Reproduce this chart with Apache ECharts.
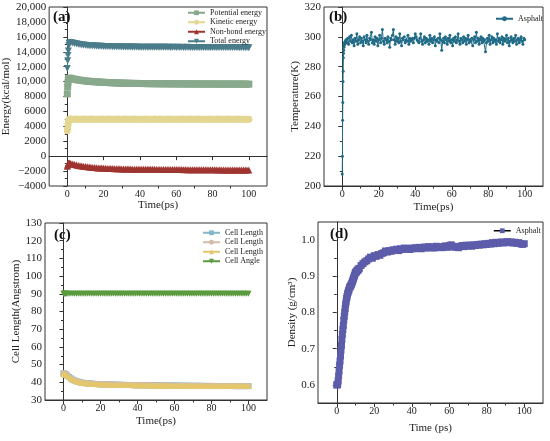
<!DOCTYPE html>
<html>
<head>
<meta charset="utf-8">
<script src="https://cdn.jsdelivr.net/npm/echarts@6/dist/echarts.min.js"></script>
<style>
  html, body { margin: 0; padding: 0; background: #fff; }
  #main { width: 550px; height: 441px; }
</style>
</head>
<body>
<div id="main"></div>
<script>
// time stamps (ps): dense start, then one sample per ps
const timeEarly = [0, 0.2, 0.4, 0.6, 0.8, 1, 1.5];
const timeA = timeEarly.concat(Array.from({ length: 99 }, (_, i) => i + 2));

// (a) energies, kcal/mol
const potentialE = [8350, 9300, 9900, 10300, 10400, 10450, 10450,
  10420, 10370, 10320, 10270, 10220, 10180, 10150, 10120, 10090,
  10060, 10040, 10020, 10000, 9980, 9960, 9950, 9930, 9920, 9900,
  9890, 9880, 9860, 9850, 9840, 9830, 9820, 9810, 9800, 9800,
  9790, 9780, 9780, 9770, 9760, 9760, 9750, 9760, 9740, 9750,
  9740, 9730, 9740, 9720, 9730, 9720, 9730, 9710, 9720, 9710,
  9720, 9700, 9710, 9700, 9720, 9700, 9690, 9710, 9700, 9690,
  9700, 9690, 9700, 9680, 9690, 9700, 9680, 9690, 9680, 9690,
  9680, 9690, 9670, 9680, 9690, 9670, 9680, 9670, 9680, 9670,
  9680, 9670, 9660, 9680, 9670, 9660, 9670, 9680, 9660, 9670,
  9660, 9670, 9660, 9670, 9660, 9650, 9670, 9660, 9650, 9660];
const kineticE = [3400, 3700, 4200, 4600, 4850, 4920, 4950,
  4970, 4960, 4950, 4970, 4940, 4960, 4950, 4970, 4940,
  4960, 4950, 4970, 4940, 4960, 4950, 4960, 4940, 4970, 4950,
  4960, 4940, 4970, 4950, 4960, 4940, 4950, 4970, 4960, 4940,
  4950, 4970, 4960, 4940, 4960, 4950, 4970, 4940, 4960, 4950,
  4940, 4960, 4970, 4950, 4940, 4960, 4950, 4970, 4960, 4940,
  4970, 4950, 4960, 4940, 4950, 4970, 4960, 4950, 4940, 4960,
  4950, 4960, 4970, 4940, 4960, 4950, 4940, 4970, 4950, 4960,
  4940, 4970, 4950, 4960, 4950, 4940, 4960, 4970, 4950, 4940,
  4960, 4950, 4970, 4940, 4960, 4950, 4960, 4940, 4970, 4950,
  4960, 4940, 4950, 4970, 4950, 4960, 4940, 4960, 4950, 4940];
const nonbondE = [-1350, -1200, -1050, -980, -940, -920, -950,
  -1000, -1060, -1120, -1180, -1240, -1290, -1330, -1370, -1400,
  -1430, -1460, -1490, -1510, -1530, -1550, -1570, -1590, -1600, -1620,
  -1630, -1640, -1650, -1660, -1670, -1680, -1690, -1690, -1700, -1710,
  -1710, -1720, -1720, -1730, -1730, -1740, -1740, -1740, -1750, -1750,
  -1750, -1760, -1760, -1760, -1770, -1770, -1770, -1770, -1780, -1780,
  -1780, -1780, -1790, -1780, -1790, -1790, -1790, -1800, -1790, -1800,
  -1800, -1800, -1800, -1810, -1800, -1810, -1810, -1810, -1810, -1820,
  -1810, -1820, -1820, -1820, -1820, -1830, -1820, -1830, -1830, -1830,
  -1830, -1830, -1840, -1830, -1840, -1840, -1840, -1840, -1850, -1840,
  -1850, -1840, -1850, -1850, -1850, -1850, -1860, -1850, -1860, -1860];
const totalE = [11750, 12800, 13500, 14100, 14800, 15150, 15200,
  15230, 15180, 15120, 15060, 15000, 14960, 14920, 14890, 14860,
  14840, 14820, 14800, 14790, 14770, 14760, 14750, 14740, 14730, 14720,
  14710, 14700, 14700, 14690, 14680, 14680, 14670, 14660, 14660, 14650,
  14650, 14640, 14640, 14630, 14640, 14630, 14620, 14630, 14620, 14620,
  14610, 14620, 14610, 14600, 14610, 14600, 14610, 14600, 14600, 14590,
  14600, 14590, 14600, 14590, 14600, 14590, 14580, 14590, 14590, 14580,
  14590, 14580, 14590, 14580, 14580, 14590, 14580, 14570, 14580, 14580,
  14570, 14580, 14570, 14580, 14570, 14570, 14580, 14570, 14570, 14560,
  14570, 14560, 14570, 14570, 14560, 14570, 14560, 14560, 14570, 14560,
  14560, 14570, 14560, 14560, 14550, 14560, 14560, 14550, 14560, 14550];

// (b) temperature, K
const timeBEarly = [0, 0.1, 0.2, 0.3, 0.4, 0.5, 0.6, 0.7, 0.8, 0.9, 1.0, 1.2, 1.4, 1.6, 1.8];
const tempEarly = [208, 220, 244, 256, 270, 277, 286, 289, 291, 293, 294, 296, 295, 297, 296];
const tempSteady = [298, 296, 299, 295, 300, 297, 301, 296, 298, 294,
  299, 297, 302, 295, 298, 300, 296, 299, 297, 294,
  300, 298, 296, 301, 297, 295, 299, 298, 303, 296,
  298, 295, 300, 297, 299, 294, 298, 301, 296, 299,
  305, 297, 295, 299, 298, 296, 300, 297, 293, 299,
  298, 301, 305, 298, 295, 300, 297, 299, 296, 302,
  297, 294, 299, 298, 300, 296, 298, 297, 301, 295,
  299, 297, 298, 299, 296, 299, 302, 300, 298, 297,
  296, 299, 302, 297, 295, 298, 300, 296, 299, 297,
  298, 295, 301, 297, 299, 296, 298, 300, 294, 298,
  297, 299, 296, 302, 298, 291, 297, 299, 296, 300,
  298, 295, 299, 297, 301, 296, 298, 294, 299, 297,
  300, 296, 298, 302, 297, 295, 299, 298, 296, 300,
  297, 299, 295, 298, 301, 296, 298, 297, 299, 294,
  298, 300, 296, 303, 297, 299, 295, 298, 300, 296,
  299, 297, 298, 290, 296, 299, 297, 301, 295, 298,
  300, 296, 299, 297, 298, 295, 302, 297, 299, 296,
  298, 300, 295, 299, 297, 298, 301, 296, 299, 294,
  297, 300, 298, 296, 299, 297, 301, 295, 298, 299,
  296, 298, 300, 297, 295, 299, 298];
const timeB = timeBEarly.concat(tempSteady.map((_, i) => 2 + i * 0.5));
const temperature = tempEarly.concat(tempSteady);

// (c) cell parameters (cubic box: a = b = c)
const cellLength = [45.0, 44.9, 44.8, 44.7, 44.6, 44.5, 44.2,
  43.8, 43.0, 42.2, 41.5, 41.0, 40.6, 40.3, 40.0, 39.8,
  39.6, 39.5, 39.4, 39.3, 39.2, 39.15, 39.1, 39.0, 38.95, 38.9,
  38.85, 38.8, 38.8, 38.75, 38.7, 38.7, 38.65, 38.65, 38.6, 38.6,
  38.55, 38.55, 38.5, 38.5, 38.5, 38.45, 38.45, 38.4, 38.4, 38.4,
  38.35, 38.35, 38.35, 38.3, 38.3, 38.3, 38.25, 38.25, 38.25, 38.2,
  38.2, 38.2, 38.2, 38.15, 38.15, 38.15, 38.15, 38.1, 38.1, 38.1,
  38.1, 38.1, 38.05, 38.05, 38.05, 38.05, 38.05, 38.0, 38.0, 38.0,
  38.0, 38.0, 38.0, 38.0, 37.95, 37.95, 37.95, 37.95, 37.95, 37.95,
  37.95, 37.9, 37.9, 37.9, 37.9, 37.9, 37.9, 37.9, 37.9, 37.9,
  37.9, 37.85, 37.85, 37.85, 37.85, 37.85, 37.85, 37.85, 37.85, 37.85];
const cellAngle = [90, 90, 90, 90, 90, 90, 90,
  90, 90, 90, 90, 90, 90, 90, 90, 90, 90, 90, 90, 90, 90, 90, 90, 90, 90, 90,
  90, 90, 90, 90, 90, 90, 90, 90, 90, 90, 90, 90, 90, 90, 90, 90, 90, 90, 90,
  90, 90, 90, 90, 90, 90, 90, 90, 90, 90, 90, 90, 90, 90, 90, 90, 90, 90, 90,
  90, 90, 90, 90, 90, 90, 90, 90, 90, 90, 90, 90, 90, 90, 90, 90, 90, 90, 90,
  90, 90, 90, 90, 90, 90, 90, 90, 90, 90, 90, 90, 90, 90, 90, 90, 90, 90, 90,
  90, 90, 90, 90, 90, 90, 90, 90, 90, 90];

// (d) density, g/cm3: every 0.25 ps up to 12 ps, then one sample per ps
const timeDEarly = Array.from({ length: 49 }, (_, i) => i * 0.25);
const densityEarly = [0.600, 0.600, 0.602, 0.611, 0.625, 0.639, 0.654, 0.666,
  0.680, 0.696, 0.709, 0.726, 0.740, 0.753, 0.764, 0.779,
  0.790, 0.801, 0.811, 0.823, 0.830, 0.839, 0.844, 0.851,
  0.855, 0.860, 0.862, 0.868, 0.870, 0.873, 0.874, 0.878,
  0.880, 0.885, 0.887, 0.892, 0.895, 0.900, 0.902, 0.908,
  0.910, 0.912, 0.912, 0.915, 0.916, 0.918, 0.918, 0.921, 0.922];
const densitySteady = [0.930, 0.935, 0.940, 0.943, 0.948, 0.953, 0.950, 0.957,
  0.955, 0.960, 0.958, 0.963, 0.965, 0.970, 0.967, 0.971, 0.969, 0.973,
  0.972, 0.975, 0.971, 0.976, 0.974, 0.978, 0.975, 0.977, 0.974, 0.978,
  0.976, 0.979, 0.977, 0.980, 0.976, 0.979, 0.981, 0.978, 0.982, 0.979,
  0.981, 0.978, 0.983, 0.980, 0.982, 0.979, 0.981, 0.984, 0.980, 0.985,
  0.987, 0.983, 0.980, 0.982, 0.979, 0.983, 0.985, 0.982, 0.986, 0.984,
  0.986, 0.983, 0.987, 0.985, 0.988, 0.986, 0.989, 0.987, 0.990, 0.988,
  0.991, 0.989, 0.993, 0.990, 0.994, 0.991, 0.993, 0.995, 0.992, 0.994,
  0.996, 0.993, 0.995, 0.992, 0.994, 0.991, 0.993, 0.990, 0.988, 0.990];
const timeD = timeDEarly.concat(densitySteady.map((_, i) => 13 + i));
const density = densityEarly.concat(densitySteady);

const xTicks = [0, 20, 40, 60, 80, 100];
const xMinorTicks = [10, 30, 50, 70, 90];
const densityTicks = [0.6, 0.7, 0.8, 0.9, 1.0];
const densityMinorTicks = [0.65, 0.75, 0.85, 0.95];

const serif = 'Liberation Serif';
const ink = '#222';

function xy(t, v) { return v.map((y, i) => [t[i], y]); }

function xAxes(g, name, gap) {
  return [{
    type: 'value', gridIndex: g, position: 'bottom', min: -10, max: 110,
    name: name, nameLocation: 'middle', nameGap: gap,
    nameTextStyle: { fontFamily: serif, fontSize: 11, color: ink },
    axisLine: { lineStyle: { color: '#333' } }, splitLine: { show: false },
    axisTick: { customValues: xTicks, length: 4, lineStyle: { color: '#333' } },
    axisLabel: { customValues: xTicks, fontFamily: serif, fontSize: 10, color: ink, margin: 3 }
  }, {
    type: 'value', gridIndex: g, position: 'bottom', min: -10, max: 110,
    axisLine: { show: false }, splitLine: { show: false },
    axisTick: { customValues: xMinorTicks, length: 2.5, lineStyle: { color: '#333' } },
    axisLabel: { show: false }
  }];
}

function yAxis(g, name, gap, min, max, interval, fmt) {
  return {
    type: 'value', gridIndex: g, position: 'left', min: min, max: max, interval: interval,
    name: name, nameLocation: 'middle', nameGap: gap,
    nameTextStyle: { fontFamily: serif, fontSize: 11, color: ink },
    axisLine: { show: true, lineStyle: { color: '#333' } }, splitLine: { show: false },
    axisTick: { length: 4, lineStyle: { color: '#333' } },
    minorTick: { show: true, splitNumber: 2, length: 2.5, lineStyle: { color: '#333' } },
    axisLabel: { fontFamily: serif, fontSize: 11, color: ink, margin: 3, formatter: fmt }
  };
}

function energyFmt(v) {
  const a = Math.abs(v);
  let s = a >= 10000 ? Math.floor(a / 1000) + ',' + String(a % 1000).padStart(3, '0') : String(a);
  return v < 0 ? '\u2212' + s : s;
}

function lineSeries(name, xi, yi, data, color, symbol, size, extra) {
  return Object.assign({
    name: name, type: 'line', xAxisIndex: xi, yAxisIndex: yi, data: data,
    symbol: symbol, symbolSize: size, showSymbol: true, showAllSymbol: true,
    color: color, itemStyle: { color: color },
    lineStyle: { color: color, width: 1 }, animation: false
  }, extra || {});
}

const legendBase = {
  orient: 'vertical', itemWidth: 17, itemHeight: 6, itemGap: 0, padding: 0,
  textStyle: { fontFamily: serif, fontSize: 8, color: ink, lineHeight: 9.5 },
  formatter: function (n) { return n.replace(/ #\d$/, ''); }
};

const option = {
  backgroundColor: '#fff',
  animation: false,
  grid: [
    { left: 45, top: 7, width: 222, height: 179, show: true, borderColor: '#333', borderWidth: 1 },
    { left: 324, top: 7, width: 219, height: 179, show: true, borderColor: '#333', borderWidth: 1 },
    { left: 45, top: 223, width: 222, height: 177, show: true, borderColor: '#333', borderWidth: 1 },
    { left: 318, top: 222, width: 225, height: 181, show: true, borderColor: '#333', borderWidth: 1 }
  ],
  xAxis: [].concat(
    xAxes(0, 'Time(ps)', 14),
    xAxes(1, 'Time(ps)', 16),
    xAxes(2, 'Time(ps)', 16),
    xAxes(3, 'Time (ps)', 20)
  ),
  yAxis: [
    yAxis(0, 'Energy(kcal/mol)', 32, -4000, 20000, 2000, energyFmt),
    yAxis(1, 'Temperature(K)', 21, 200, 320, 20),
    yAxis(2, 'Cell Length(Angstrom)', 19, 30, 130, 10),
    {
      type: 'value', gridIndex: 3, position: 'left', min: 0.55, max: 1.05,
      name: 'Density (g/cm\u00b3)', nameLocation: 'middle', nameGap: 18,
      nameTextStyle: { fontFamily: serif, fontSize: 11, color: ink },
      axisLine: { show: true, lineStyle: { color: '#333' } }, splitLine: { show: false },
      axisTick: { customValues: densityTicks, length: 4, lineStyle: { color: '#333' } },
      axisLabel: { customValues: densityTicks, fontFamily: serif, fontSize: 11, color: ink, margin: 3,
        formatter: function (v) { return v.toFixed(1); } }
    },
    {
      type: 'value', gridIndex: 3, position: 'left', min: 0.55, max: 1.05,
      axisLine: { show: false }, splitLine: { show: false },
      axisTick: { customValues: densityMinorTicks, length: 2.5, lineStyle: { color: '#333' } },
      axisLabel: { show: false }
    }
  ],
  legend: [
    Object.assign({}, legendBase, { left: 187, top: 8,
      data: ['Potential energy', 'Kinetic energy', 'Non-bond energy', 'Total energy'] }),
    Object.assign({}, legendBase, { left: 495, top: 14, data: ['Asphalt #1'] }),
    Object.assign({}, legendBase, { left: 202, top: 228,
      data: ['Cell Length #1', 'Cell Length #2', 'Cell Length #3', 'Cell Angle'] }),
    Object.assign({}, legendBase, { left: 493, top: 226,
      data: [{ name: 'Asphalt #2', itemStyle: { color: '#5c5cab' }, lineStyle: { color: '#000', width: 1.5 } }] })
  ],
  graphic: [
    { type: 'text', left: 53, top: 10, style: { text: '(a)', font: 'bold 15px Liberation Serif', fill: '#111' } },
    { type: 'text', left: 329, top: 10, style: { text: '(b)', font: 'bold 15px Liberation Serif', fill: '#111' } },
    { type: 'text', left: 54, top: 228, style: { text: '(c)', font: 'bold 15px Liberation Serif', fill: '#111' } },
    { type: 'text', left: 330, top: 227, style: { text: '(d)', font: 'bold 15px Liberation Serif', fill: '#111' } }
  ],
  series: [
    lineSeries('Potential energy', 0, 0, xy(timeA, potentialE), '#89a98d', 'rect', 7),
    lineSeries('Kinetic energy', 0, 0, xy(timeA, kineticE), '#e3d690', 'circle', 7),
    lineSeries('Non-bond energy', 0, 0, xy(timeA, nonbondE), '#9f3530', 'triangle', 7),
    lineSeries('Total energy', 0, 0, xy(timeA, totalE), '#4b7c8a', 'triangle', 7, { symbolRotate: 180 }),

    lineSeries('Asphalt #1', 2, 1, xy(timeB, temperature), '#1f6a86', 'circle', 3),

    lineSeries('Cell Length #1', 4, 2, xy(timeA, cellLength), '#86b7c9', 'rect', 6),
    lineSeries('Cell Length #2', 4, 2, xy(timeA, cellLength), '#d6baa8', 'circle', 6),
    lineSeries('Cell Length #3', 4, 2, xy(timeA, cellLength), '#e4c76c', 'triangle', 6),
    lineSeries('Cell Angle', 4, 2, xy(timeA, cellAngle), '#5b9b3f', 'triangle', 6, { symbolRotate: 180 }),

    lineSeries('Asphalt #2', 6, 3, xy(timeD, density), '#5c5cab', 'rect', 7,
      { lineStyle: { color: '#000', width: 1.5 } })
  ]
};

const chart = echarts.init(document.getElementById('main'), null, { renderer: 'canvas' });
chart.setOption(option);
</script>
</body>
</html>
